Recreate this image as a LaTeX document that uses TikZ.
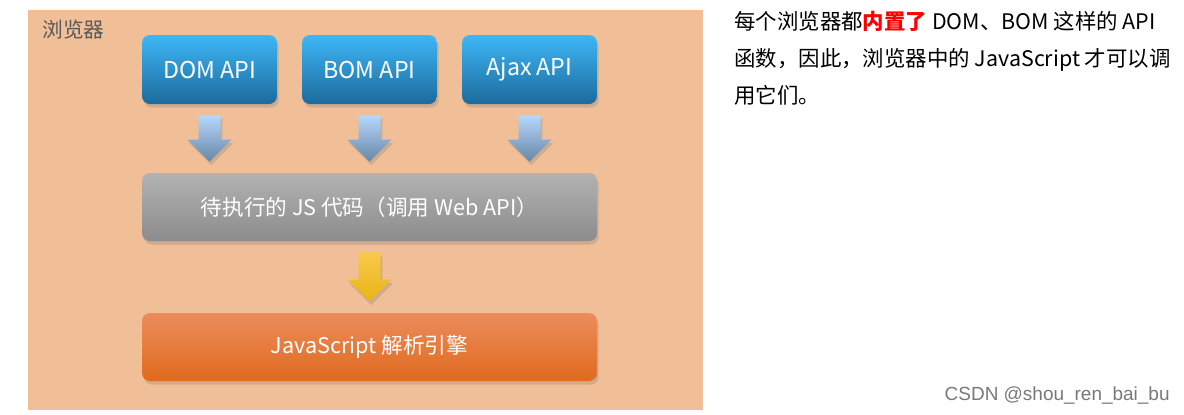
\documentclass[tikz,border=0pt]{standalone}
\usepackage{fontspec}
\setmainfont{Noto Sans CJK SC}
\newfontfamily\wmfont{Liberation Sans}
\usepackage{tikz}
\usetikzlibrary{calc}
\usetikzlibrary{shadows}
\definecolor{peach}{RGB}{241,191,151}
\definecolor{labelgray}{RGB}{89,89,89}
\definecolor{bluetop}{RGB}{61,183,247}
\definecolor{bluebot}{RGB}{29,106,156}
\definecolor{graytop}{RGB}{178,178,178}
\definecolor{graybot}{RGB}{140,140,140}
\definecolor{orangetop}{RGB}{236,140,92}
\definecolor{orangemid}{RGB}{240,127,48}
\definecolor{orangebot}{RGB}{224,106,30}
\definecolor{arrowtop}{RGB}{181,216,250}
\definecolor{arrowbot}{RGB}{103,134,168}
\definecolor{yellowtop}{RGB}{250,200,74}
\definecolor{yellowbot}{RGB}{232,180,21}
\definecolor{markred}{RGB}{255,0,0}
\definecolor{wmgray}{RGB}{120,120,120}
\newcommand{\blockarrow}[4] % from node, to node, top colour, bottom colour
{
	% shaft starts 11px under the source, tip stops 11px over the target
	\path[top color=#3, bottom color=#4, boxshadow]
		($(#1.south)+(-11,11)$) -- ($(#1.south)+(11,11)$)
		-- ($(#1.south |- #2.north)+(11,-33)$) -- ($(#1.south |- #2.north)+(22,-33)$)
		-- ($(#1.south |- #2.north)+(0,-11)$)
		-- ($(#1.south |- #2.north)+(-22,-33)$) -- ($(#1.south |- #2.north)+(-11,-33)$)
		-- cycle;
}

\begin{document}
\begin{tikzpicture}[x=0.02cm, y=-0.02cm,
	boxshadow/.style={drop shadow={opacity=0.3, shadow xshift=1pt, shadow yshift=-2pt}},
	card/.style={rounded corners=4.5pt, text=white, boxshadow, inner sep=0pt,
		font=\fontsize{12.3}{15}\selectfont},
	apibox/.style={card, minimum width=2.7cm, minimum height=1.38cm,
		top color=bluetop, bottom color=bluebot, font=\fontsize{13.2}{15}\selectfont},
	codebox/.style={card, minimum width=9.1cm, minimum height=1.36cm,
		top color=graytop, bottom color=graybot},
	enginebox/.style={card, minimum width=9.1cm, minimum height=1.36cm,
		top color=orangetop, middle color=orangemid, bottom color=orangebot},
	note/.style={anchor=base west, inner sep=0pt, font=\fontsize{12.2}{14}\selectfont}]
	% 1184 x 414 px, 1px = 0.02cm
	\useasboundingbox (0,0) rectangle (1184,414);
	\fill[peach] (28,10) rectangle (703,410);
	\node[anchor=base west, inner sep=0pt, text=labelgray, font=\fontsize{11.8}{14}\selectfont] (browser) at (42,37) {浏览器};
	
	% api row
	\node[apibox] (dom) at (209.5,69.5) {DOM API};
	\node[apibox] (bom) at (369.5,69.5) {BOM API};
	\node[apibox] (ajax) at (529.5,69.5) {Ajax API};
	
	\node[codebox] (code) at (369.5,207) {待执行的 JS 代码（调用 Web API）};
	\node[enginebox] (engine) at (369.5,347) {JavaScript 解析引擎};
	
	\blockarrow{dom}{code}{arrowtop}{arrowbot};
	\blockarrow{bom}{code}{arrowtop}{arrowbot};
	\blockarrow{ajax}{code}{arrowtop}{arrowbot};
	\blockarrow{code}{engine}{yellowtop}{yellowbot};
	
	% side note
	\node[note] (line1) at (734,29) {每个浏览器都\textcolor{markred}{\bfseries 内置了} DOM、BOM 这样的 API};
	\node[note] (line2) at (734,66) {函数，因此，浏览器中的 JavaScript 才可以调};
	\node[note] (line3) at (734,103) {用它们。};
	
	\node[anchor=base east, inner sep=0pt, text=wmgray, font=\wmfont\fontsize{10.8}{12}\selectfont] (mark) at (1170,400) {CSDN @shou\_ren\_bai\_bu};
\end{tikzpicture}
\end{document}
